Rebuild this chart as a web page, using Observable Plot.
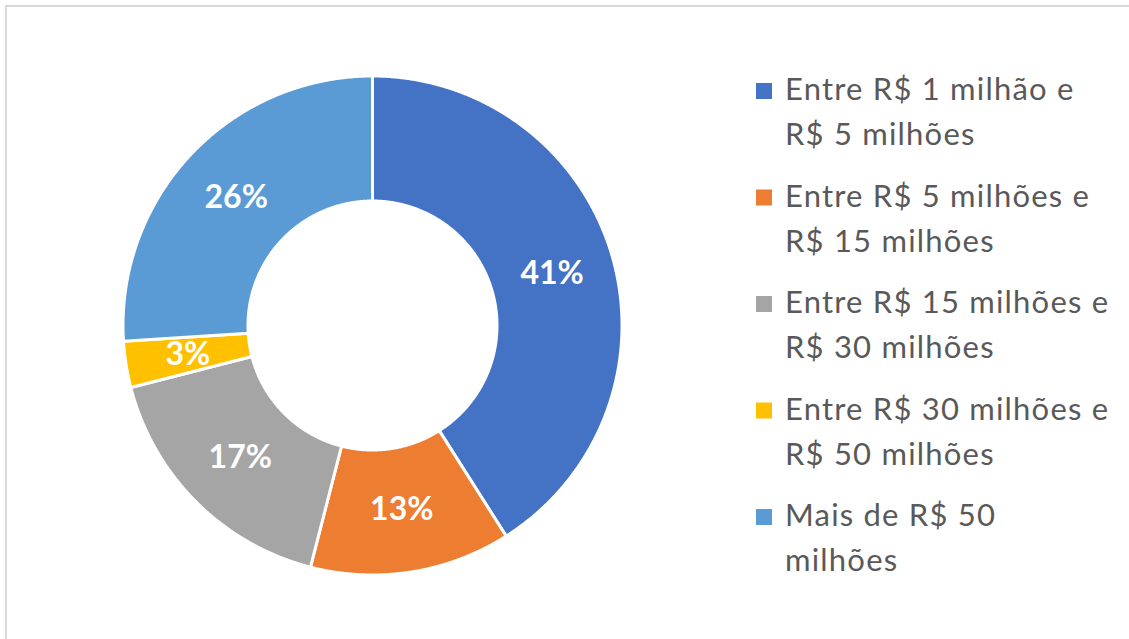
<!DOCTYPE html>
<html>
<head>
<meta charset="utf-8">
<script src="https://cdn.jsdelivr.net/npm/d3@7"></script>
<script src="https://cdn.jsdelivr.net/npm/@observablehq/plot@0.6"></script>
<style>
  body { margin: 0; background: #fff; }
  #wrap { position: relative; width: 1129px; height: 639px; overflow: hidden; background: #fff; }
  #chart { position: absolute; left: 0; top: 0; }
  #legend { position: absolute; left: 0; top: 0; }
  #frame { position: absolute; left: 5px; top: 5px; width: 1200px; height: 700px; border: 2px solid #d9d9d9; box-sizing: border-box; pointer-events: none; }
</style>
</head>
<body>
<div id="wrap">
  <div id="chart"></div>
  <svg id="legend" width="1129" height="639"></svg>
  <div id="frame"></div>
</div>
<script>
// ---- data ----
const categories = [
  "Entre R$ 1 milhão e R$ 5 milhões",
  "Entre R$ 5 milhões e R$ 15 milhões",
  "Entre R$ 15 milhões e R$ 30 milhões",
  "Entre R$ 30 milhões e R$ 50 milhões",
  "Mais de R$ 50 milhões"
];
const shares = [41, 13, 17, 3, 26];
const colors = ["#4472C4", "#ED7D31", "#A5A5A5", "#FFC000", "#5B9BD5"];
const legendLines = [
  ["Entre R$ 1 milhão e", "R$ 5 milhões"],
  ["Entre R$ 5 milhões e", "R$ 15 milhões"],
  ["Entre R$ 15 milhões e", "R$ 30 milhões"],
  ["Entre R$ 30 milhões e", "R$ 50 milhões"],
  ["Mais de R$ 50", "milhões"]
];

// ---- layout ----
const W = 1129, H = 639;
const cx = 372, cy = 325, unit = 249.5; // pixel centre and outer radius
const R = 1, r0 = 124.5 / unit, rl = 187 / unit;

const total = d3.sum(shares);
let acc = 0;
const slices = categories.map((c, i) => {
  const a0 = acc / total * 2 * Math.PI;
  acc += shares[i];
  const a1 = acc / total * 2 * Math.PI;
  return {c, v: shares[i], a0, a1, mid: (a0 + a1) / 2};
});

const pts = [];
for (const s of slices) {
  const n = Math.max(2, Math.ceil((s.a1 - s.a0) / 0.005));
  for (let k = 0; k <= n; k++) {
    const a = s.a0 + (s.a1 - s.a0) * k / n;
    pts.push({c: s.c, x: R * Math.sin(a), y: R * Math.cos(a)});
  }
  for (let k = n; k >= 0; k--) {
    const a = s.a0 + (s.a1 - s.a0) * k / n;
    pts.push({c: s.c, x: r0 * Math.sin(a), y: r0 * Math.cos(a)});
  }
}

const chart = Plot.plot({
  width: W, height: H, margin: 0,
  style: {background: "transparent"},
  x: {domain: [-cx / unit, (W - cx) / unit], axis: null},
  y: {domain: [-(H - cy) / unit, cy / unit], axis: null},
  color: {domain: categories, range: colors},
  marks: [
    Plot.line(pts, {x: "x", y: "y", z: "c", fill: "c", stroke: "white", strokeWidth: 3, curve: "linear-closed"}),
    Plot.text(slices, {
      x: d => rl * Math.sin(d.mid), y: d => rl * Math.cos(d.mid),
      text: d => d.v + "%", fill: "white", fontSize: 32, fontWeight: "bold",
      fontFamily: "Lato", textAnchor: "middle", lineAnchor: "middle"
    })
  ]
});
document.getElementById("chart").appendChild(chart);

// ---- legend ----
const leg = d3.select("#legend");
const color = chart.scale("color");
const itemG = leg.selectAll("g").data(categories).join("g")
  .attr("transform", (d, i) => `translate(756, ${100 + i * 106.5})`);
itemG.append("rect").attr("x", 0).attr("y", -17).attr("width", 16).attr("height", 16)
  .attr("fill", d => color.apply(d));
itemG.each(function(d, i) {
  const t = d3.select(this).append("text")
    .attr("font-family", "Lato").attr("font-size", 31).attr("fill", "#595959")
    .attr("letter-spacing", 1.2);
  legendLines[i].forEach((line, j) => {
    t.append("tspan").attr("x", 29).attr("y", j * 45).text(line);
  });
});
</script>
</body>
</html>
